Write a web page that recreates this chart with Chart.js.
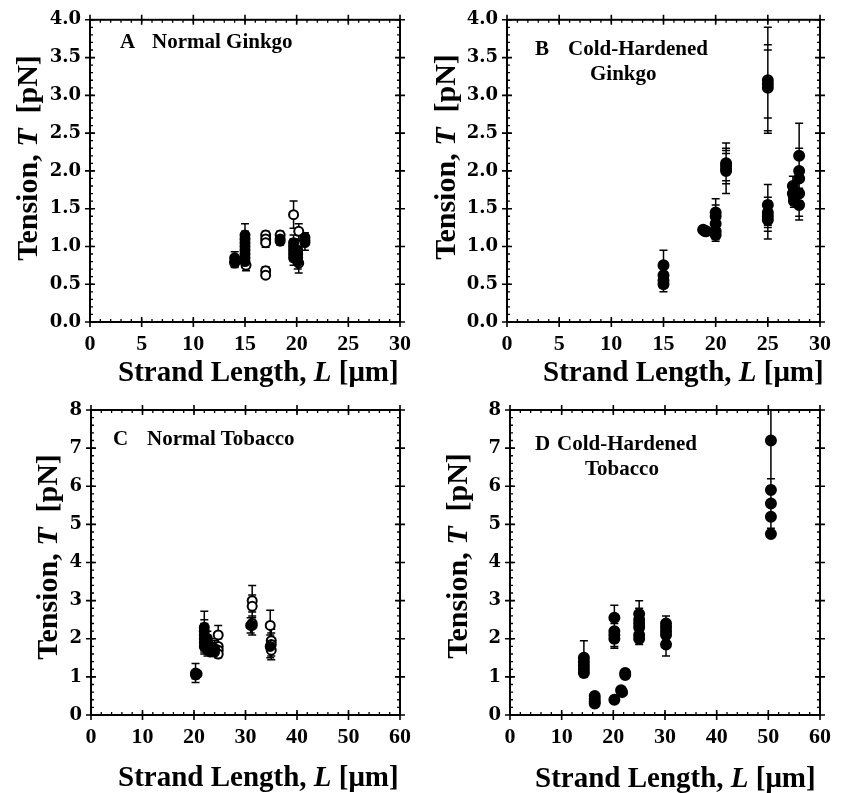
<!DOCTYPE html>
<html>
<head>
<meta charset="utf-8">
<script src="https://cdn.jsdelivr.net/npm/chart.js@4.4.1/dist/chart.umd.min.js"></script>
<style>
  body { margin: 0; background: #fff; width: 849px; height: 793px; position: relative; overflow: hidden; }
  canvas { position: absolute; }
  .lab { position: absolute; font-family: "Liberation Serif", serif; font-weight: bold; color: #000; white-space: nowrap; line-height: 1; }
  .ytitle { text-align: center; transform: rotate(-90deg); }
</style>
</head>
<body>
<script>
// tick values / labels
const ginkgoXTicks = [0, 5, 10, 15, 20, 25, 30];
const ginkgoYTicks = [0, 0.5, 1, 1.5, 2, 2.5, 3, 3.5, 4];
const ginkgoYLabels = ['0.0', '0.5', '1.0', '1.5', '2.0', '2.5', '3.0', '3.5', '4.0'];
const tobaccoXTicks = [0, 10, 20, 30, 40, 50, 60];
const tobaccoYTicks = [0, 1, 2, 3, 4, 5, 6, 7, 8];
const tobaccoYLabels = ['0', '1', '2', '3', '4', '5', '6', '7', '8'];

// points: [L (um), T (pN), error]
const ginkgoNormalFilled = [
  [14, 0.85, 0.08], [14, 0.8, 0.07], [14, 0.78, 0.06],
  [15, 1.15, 0.15], [15, 1.1, 0.1], [15, 1.05, 0.1], [15, 1.0, 0.1], [15, 0.95, 0.1],
  [15, 0.9, 0.1], [15, 0.85, 0.1], [15, 0.8, 0.08],
  [18.4, 1.1, 0.05], [18.4, 1.07, 0.05],
  [19.7, 1.05, 0.1], [19.7, 1.0, 0.1], [19.7, 0.95, 0.1], [19.7, 0.9, 0.1], [19.7, 0.85, 0.1],
  [20.1, 0.95, 0.1], [20.1, 0.9, 0.1], [20.1, 0.85, 0.1], [20.1, 0.8, 0.1],
  [20.8, 1.12, 0.06], [20.8, 1.08, 0.06], [20.8, 1.05, 0.1]
];
const ginkgoNormalOpen = [
  [15.1, 0.75, 0.07],
  [17, 1.15, 0.05], [17, 1.1, 0.05], [17, 1.05, 0.06], [17, 0.68, 0.05], [17, 0.62, 0.04],
  [18.4, 1.15, 0.05],
  [19.7, 1.42, 0.18], [20.2, 1.2, 0.1], [20.1, 1.02, 0.08], [20.2, 0.78, 0.13]
];
const ginkgoColdFilled = [
  [15, 0.75, 0.2], [15, 0.62, 0.1], [15, 0.55, 0.1], [15, 0.5, 0.1],
  [18.8, 1.22, 0.04], [19.1, 1.2, 0.04], [19, 1.2, 0.05],
  [20, 1.45, 0.18], [20, 1.4, 0.15], [20, 1.3, 0.12], [20, 1.2, 0.1], [20, 1.15, 0.08],
  [21, 2.1, 0.27], [21, 2.07, 0.2], [21, 2.03, 0.2], [21, 2.0, 0.3],
  [25, 3.2, 0.7], [25, 3.15, 0.45], [25, 3.1, 0.57],
  [25, 1.55, 0.27], [25, 1.45, 0.2], [25, 1.4, 0.2], [25, 1.35, 0.25],
  [27.4, 1.8, 0.13], [27.4, 1.7, 0.1], [27.5, 1.65, 0.1], [27.5, 1.6, 0.08],
  [28, 2.2, 0.43], [28, 2.0, 0.3], [28, 1.9, 0.3], [28, 1.7, 0.3], [28, 1.55, 0.2]
];
const tobaccoNormalFilled = [
  [20.3, 1.1, 0.25], [20.3, 1.05, 0.1],
  [22, 2.3, 0.42], [22, 2.2, 0.3], [22, 2.1, 0.3], [22, 2.0, 0.3], [22, 1.9, 0.25], [22, 1.8, 0.2],
  [22.6, 2.0, 0.2], [22.6, 1.9, 0.2], [22.6, 1.8, 0.2], [22.6, 1.7, 0.15],
  [23.2, 1.8, 0.2], [23.2, 1.7, 0.15], [23.2, 1.65, 0.1],
  [24, 1.75, 0.2], [24, 1.65, 0.1],
  [31, 2.35, 0.2], [34.8, 1.8, 0.3]
];
const tobaccoNormalOpen = [
  [20.6, 1.08, 0.08],
  [24.7, 2.1, 0.25], [24.7, 1.8, 0.2], [24.7, 1.7, 0.15], [24.7, 1.6, 0.1],
  [31.3, 3.0, 0.4], [31.3, 2.85, 0.3], [31.3, 2.4, 0.3], [31.3, 2.35, 0.25],
  [34.8, 2.35, 0.4], [35, 1.95, 0.3], [35, 1.85, 0.3], [35, 1.7, 0.25]
];
const tobaccoColdFilled = [
  [14.3, 1.5, 0.45], [14.3, 1.4, 0.2], [14.3, 1.3, 0.2], [14.3, 1.2, 0.15], [14.3, 1.1, 0.1],
  [16.4, 0.5, 0.05], [16.4, 0.42, 0.05], [16.4, 0.35, 0.05], [16.4, 0.3, 0.05],
  [20.2, 2.55, 0.33], [20.2, 2.2, 0.3], [20.2, 2.1, 0.3], [20.2, 2.0, 0.25], [20.2, 0.4, 0.05],
  [21.5, 0.65, 0.05], [21.7, 0.6, 0.05],
  [22.3, 1.1, 0.05], [22.3, 1.05, 0.05],
  [25, 2.65, 0.35], [25, 2.5, 0.3], [25, 2.4, 0.3], [25, 2.3, 0.3], [25, 2.1, 0.2], [25, 2.0, 0.15],
  [30.2, 2.4, 0.2], [30.2, 2.3, 0.2], [30.2, 2.2, 0.2], [30.2, 2.1, 0.25], [30.2, 1.85, 0.3],
  [50.5, 7.2, 1.2], [50.5, 5.9, 0.3], [50.5, 5.55, 0.3], [50.5, 5.2, 0.3], [50.5, 4.75, 0.05]
];

// error bars, drawn under the markers
const errorBars = {
  id: 'errorBars',
  beforeDatasetsDraw(chart) {
    const { ctx, chartArea: a, scales: { x, y } } = chart;
    ctx.save();
    ctx.beginPath();
    ctx.rect(a.left, a.top, a.right - a.left, a.bottom - a.top);
    ctx.clip();
    ctx.strokeStyle = '#000';
    ctx.lineWidth = 1.5;
    ctx.beginPath();
    chart.data.datasets.forEach(ds => {
      ds.data.forEach(p => {
        const px = x.getPixelForValue(p.x);
        const top = y.getPixelForValue(p.y + p.e);
        const bot = y.getPixelForValue(p.y - p.e);
        ctx.moveTo(px, top); ctx.lineTo(px, bot);
        ctx.moveTo(px - 4, top); ctx.lineTo(px + 4, top);
        ctx.moveTo(px - 4, bot); ctx.lineTo(px + 4, bot);
      });
    });
    ctx.stroke();
    ctx.restore();
  }
};

// box frame with ticks on all four sides
const frame = {
  id: 'frame',
  afterDatasetsDraw(chart, args, opts) {
    const { ctx, chartArea: a, scales: { x, y } } = chart;
    ctx.save();
    ctx.strokeStyle = '#000';
    ctx.lineWidth = 2;
    ctx.strokeRect(a.left, a.top, a.right - a.left, a.bottom - a.top);
    ctx.lineWidth = 1.6;
    ctx.beginPath();
    x.ticks.forEach(t => {
      const px = x.getPixelForValue(t.value);
      ctx.moveTo(px, a.bottom - 5); ctx.lineTo(px, a.bottom + 5);
      ctx.moveTo(px, a.top - 5); ctx.lineTo(px, a.top + 5);
    });
    y.ticks.forEach(t => {
      const py = y.getPixelForValue(t.value);
      ctx.moveTo(a.left - 5, py); ctx.lineTo(a.left + 5, py);
      ctx.moveTo(a.right - 5, py); ctx.lineTo(a.right + 5, py);
    });
    ctx.stroke();
    ctx.lineWidth = 1.3;
    ctx.beginPath();
    for (let v = x.min; v <= x.max + 1e-9; v += opts.xMinor) {
      const px = x.getPixelForValue(v);
      ctx.moveTo(px, a.bottom); ctx.lineTo(px, a.bottom - 3);
      ctx.moveTo(px, a.top); ctx.lineTo(px, a.top + 3);
    }
    for (let v = y.min; v <= y.max + 1e-9; v += opts.yMinor) {
      const py = y.getPixelForValue(v);
      ctx.moveTo(a.left, py); ctx.lineTo(a.left + 3, py);
      ctx.moveTo(a.right, py); ctx.lineTo(a.right - 3, py);
    }
    ctx.stroke();
    ctx.restore();
  }
};

function addText(html, left, top, size, cls) {
  const d = document.createElement('div');
  d.className = 'lab' + (cls ? ' ' + cls : '');
  d.style.left = left + 'px';
  d.style.top = top + 'px';
  d.style.fontSize = size + 'px';
  d.innerHTML = html;
  document.body.appendChild(d);
  return d;
}

function yTitle(cx, cy) {
  const w = 260;
  const d = addText('Tension, <i>T</i>&nbsp;&nbsp;[pN]', cx - w / 2, cy - 15, 30, 'ytitle');
  d.style.width = w + 'px';
  d.style.height = '30px';
}

function makePanel(p) {
  const cv = document.createElement('canvas');
  cv.width = p.w;
  cv.height = p.h;
  cv.style.left = p.left + 'px';
  cv.style.top = p.top + 'px';
  document.body.appendChild(cv);

  const datasets = p.series.map(s => ({
    data: s.pts.map(q => ({ x: q[0], y: q[1], e: q[2] })),
    pointRadius: p.radius,
    pointBackgroundColor: s.open ? '#fff' : '#000',
    pointBorderColor: '#000',
    pointBorderWidth: 2,
    pointHoverRadius: p.radius,
  }));

  new Chart(cv, {
    type: 'scatter',
    data: { datasets: datasets },
    options: {
      responsive: false,
      animation: false,
      events: [],
      layout: { padding: { left: 0, top: p.padTop, right: p.padRight, bottom: 0 } },
      plugins: {
        legend: { display: false },
        tooltip: { enabled: false },
        frame: { xMinor: p.xMinor, yMinor: p.yMinor },
      },
      scales: {
        x: {
          type: 'linear',
          min: p.xTicks[0],
          max: p.xTicks[p.xTicks.length - 1],
          afterBuildTicks: s => { s.ticks = p.xTicks.map(v => ({ value: v })); },
          afterFit: s => { s.height = p.xHeight; },
          grid: { display: false, drawTicks: false },
          border: { display: false },
          ticks: {
            color: '#000',
            padding: 9,
            maxRotation: 0,
            font: { family: 'Liberation Serif', weight: 'bold', size: 22 },
          },
        },
        y: {
          type: 'linear',
          min: p.yTicks[0],
          max: p.yTicks[p.yTicks.length - 1],
          afterBuildTicks: s => { s.ticks = p.yTicks.map(v => ({ value: v })); },
          afterFit: s => { s.width = p.yWidth; },
          grid: { display: false, drawTicks: false },
          border: { display: false },
          ticks: {
            color: '#000',
            padding: 9,
            font: { family: "'DejaVu Serif'", weight: 'bold', size: 18 },
            callback: (v, i) => p.yLabels[i],
          },
        },
      },
    },
    plugins: [errorBars, frame],
  });
}

// A  Normal Ginkgo
makePanel({
  left: 0, top: 0, w: 425, h: 390, yWidth: 90, padTop: 16, padRight: 25, xHeight: 68,
  xTicks: ginkgoXTicks, yTicks: ginkgoYTicks, yLabels: ginkgoYLabels, xMinor: 1, yMinor: 0.1, radius: 4.5,
  series: [{ pts: ginkgoNormalFilled, open: false }, { pts: ginkgoNormalOpen, open: true }],
});
// B  Cold-Hardened Ginkgo
makePanel({
  left: 425, top: 0, w: 424, h: 390, yWidth: 82, padTop: 15, padRight: 29, xHeight: 68,
  xTicks: ginkgoXTicks, yTicks: ginkgoYTicks, yLabels: ginkgoYLabels, xMinor: 1, yMinor: 0.1, radius: 5,
  series: [{ pts: ginkgoColdFilled, open: false }],
});
// C  Normal Tobacco
makePanel({
  left: 0, top: 390, w: 425, h: 403, yWidth: 91, padTop: 20, padRight: 25, xHeight: 78,
  xTicks: tobaccoXTicks, yTicks: tobaccoYTicks, yLabels: tobaccoYLabels, xMinor: 2, yMinor: 0.2, radius: 4.5,
  series: [{ pts: tobaccoNormalFilled, open: false }, { pts: tobaccoNormalOpen, open: true }],
});
// D  Cold-Hardened Tobacco
makePanel({
  left: 425, top: 390, w: 424, h: 403, yWidth: 85, padTop: 20, padRight: 29, xHeight: 78,
  xTicks: tobaccoXTicks, yTicks: tobaccoYTicks, yLabels: tobaccoYLabels, xMinor: 2, yMinor: 0.2, radius: 5,
  series: [{ pts: tobaccoColdFilled, open: false }],
});

// axis titles
yTitle(27, 158);
yTitle(445, 157);
yTitle(47, 557);
yTitle(457, 556);
const xTitle = 'Strand Length, <i>L</i> [\u03bcm]';
addText(xTitle, 118, 357, 29);
addText(xTitle, 543, 357, 29);
addText(xTitle, 118, 762, 29);
addText(xTitle, 535, 763, 29);

// panel labels
addText('A', 120, 31, 21);
addText('Normal Ginkgo', 152, 31, 21);
addText('B', 535, 38, 21);
addText('Cold-Hardened', 568, 38, 21);
addText('Ginkgo', 590, 63, 21);
addText('C', 113, 428, 21);
addText('Normal Tobacco', 147, 428, 21);
addText('D', 535, 433, 21);
addText('Cold-Hardened', 557, 433, 21);
addText('Tobacco', 585, 458, 21);
</script>
</body>
</html>
